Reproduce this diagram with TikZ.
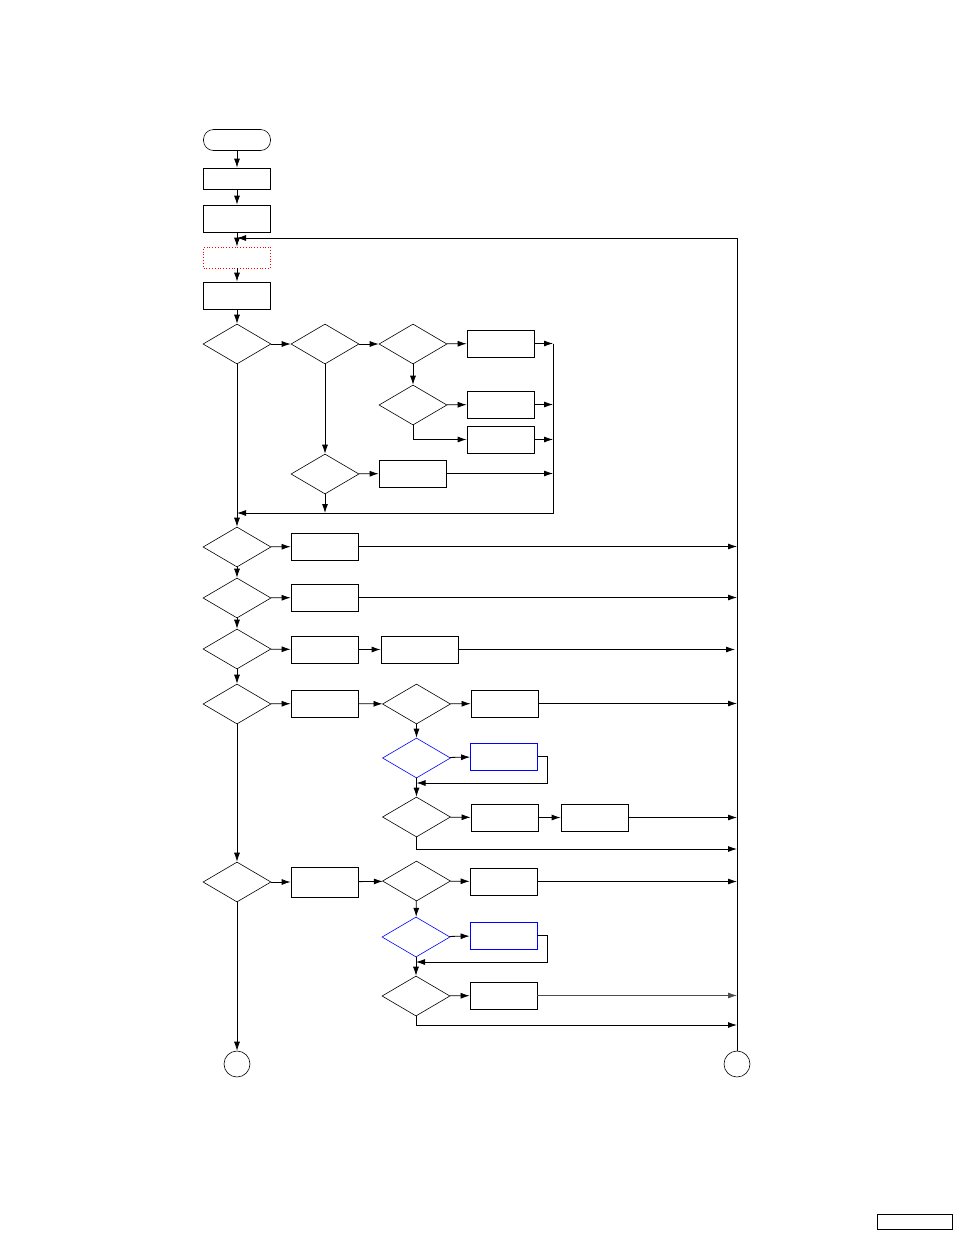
\documentclass[tikz,border=0pt]{standalone}
\usepackage{tikz}
\usetikzlibrary{shapes.geometric, arrows.meta}
\tikzset{
>={Latex[length=9pt, width=6pt]}, % filled arrow heads
box/.style={draw, line width=0.8pt, minimum width=67pt, minimum height=27pt, inner sep=0pt}, % process box
thinbox/.style={box, minimum height=21pt}, % the lower boxes at the top
decision/.style={draw, diamond, aspect=1.7, minimum width=68pt, minimum height=40pt, inner sep=0pt, line width=0.6pt}, % decision
terminal/.style={draw, rounded corners=10pt, minimum width=67pt, minimum height=21pt, inner sep=0pt, line width=0.6pt},
connector/.style={draw, circle, minimum size=26pt, inner sep=0pt, line width=0.6pt},
flow/.style={->, line width=0.8pt}, % the flow lines
}

\begin{document}
\begin{tikzpicture}[x=1pt, y=-1pt]
    \useasboundingbox (0,0) rectangle (954,1235);
    % top column
    \node[terminal] (start) at (237,140) {};
    \node[thinbox] (b1) at (237,178.5) {};
    \node[box] (b2) at (237,218.5) {};
    \node[thinbox, draw=red, dotted] (b3) at (237,257.5) {};
    \node[box] (b4) at (237,295.5) {};
    % first block
    \node[decision] (d1) at (237,344) {};
    \node[decision] (d2) at (325,344) {};
    \node[decision] (d3) at (413,344) {};
    \node[box] (r1) at (500.5,343.5) {};
    \node[decision] (d4) at (413,405) {};
    \node[box] (r2) at (500.5,404.5) {};
    \node[box] (r3) at (500.5,439.5) {};
    \node[decision] (d5) at (325,474) {};
    \node[box] (r4) at (412.5,473.5) {};
    \coordinate (cbus) at (553,513);
    % main column
    \node[decision] (d6) at (237,547) {};
    \node[box] (s1) at (324.5,546.5) {};
    \node[decision] (d7) at (237,598) {};
    \node[box] (s2) at (324.5,597.5) {};
    \node[decision] (d8) at (237,649) {};
    \node[box] (s3) at (324.5,649.5) {};
    \node[box, minimum width=77pt] (s4) at (419.5,649.5) {};
    \node[decision] (d9) at (237,704) {};
    \node[box] (s5) at (324.5,703.5) {};
    \node[decision] (d10) at (416.5,704) {};
    \node[box] (s6) at (504.5,703.5) {};
    \node[decision, draw=blue] (d11) at (416.5,758) {};
    \node[box, draw=blue] (s7) at (504,756.5) {};
    \node[decision] (d12) at (416.5,817) {};
    \node[box] (s8) at (504.5,817.5) {};
    \node[box] (s9) at (594.5,817.5) {};
    \node[decision] (d13) at (237,882) {};
    \node[box, minimum height=30pt] (s10) at (324.5,882) {};
    \node[decision] (d14) at (416.5,881) {};
    \node[box] (s11) at (503.5,881.5) {};
    \node[decision, draw=blue] (d15) at (416,937) {};
    \node[box, draw=blue] (s12) at (503.5,935.5) {};
    \node[decision] (d16) at (416,996) {};
    \node[box] (s13) at (503.5,995.5) {};
    \node[connector] (c1) at (237,1064) {};
    \node[connector] (c2) at (737,1064) {};
    \node[draw, line width=0.8pt, minimum width=75pt, minimum height=15pt, inner sep=0pt] (tag) at (914.5,1221.5) {};
    \coordinate (rtop) at (737,238);
    \coordinate (loopa) at (547,783);
    \coordinate (loopb) at (547,962);

    \draw[flow] (start) -- (b1);
    \draw[flow] (b1) -- (b2);
    \draw[flow] (b2) -- (b3);
    \draw[flow] (b3) -- (b4);
    \draw[flow] (b4) -- (d1);
    \draw[flow] (c2) -- (rtop) -- (rtop -| b2);
    \draw[flow] (d1) -- (d2);
    \draw[flow] (d2) -- (d3);
    \draw[flow] (d3) -- (r1);
    \draw[flow] (d3) -- (d4);
    \draw[flow] (d4) -- (r2);
    \draw[flow] (d4.south) |- (r3);
    \draw[flow] (d2) -- (d5);
    \draw[flow] (d5) -- (r4);
    \draw[flow] (r1) -- (r1 -| cbus);
    \draw[flow] (r2) -- (r2 -| cbus);
    \draw[flow] (r3) -- (r3 -| cbus);
    \draw[flow] (r4) -- (r4 -| cbus);
    \draw[flow] (r1 -| cbus) -- (cbus) -- (cbus -| d1);
    \draw[flow] (d5) -- (d5 |- cbus);
    \draw[flow] (d1) -- (d6);
    \draw[flow] (d6) -- (s1);
    \draw[flow] (s1) -- (s1 -| rtop);
    \draw[flow] (d6) -- (d7);
    \draw[flow] (d7) -- (s2);
    \draw[flow] (s2) -- (s2 -| rtop);
    \draw[flow] (d7) -- (d8);
    \draw[flow] (d8) -- (s3);
    \draw[flow] (s3) -- (s4);
    \draw[flow] (s4) -- ([xshift=-2pt]s4 -| rtop);
    \draw[flow] (d8) -- (d9);
    \draw[flow] (d9) -- (s5);
    \draw[flow] (s5) -- (d10);
    \draw[flow] (d10) -- (s6);
    \draw[flow] (s6) -- (s6 -| rtop);
    \draw[flow] (d10) -- (d11);
    \draw[flow] (d11) -- (s7);
    \draw[flow] (s7.east) -| (loopa) -- (loopa -| d11);
    \draw[flow] (d11) -- (d12);
    \draw[flow] (d12) -- (s8);
    \draw[flow] (s8) -- (s9);
    \draw[flow] (s9) -- (s9 -| rtop);
    \draw[flow] (d12.south) |- (rtop |- 0,849);
    \draw[flow] (d9) -- (d13);
    \draw[flow] (d13) -- (s10);
    \draw[flow] (s10) -- (d14);
    \draw[flow] (d14) -- (s11);
    \draw[flow] (s11) -- (s11 -| rtop);
    \draw[flow] (d14) -- (d15);
    \draw[flow] (d15) -- (s12);
    \draw[flow] (s12.east) -| (loopb) -- (loopb -| d15);
    \draw[flow] (d15) -- (d16);
    \draw[flow] (d16) -- (s13);
    \draw[flow, black!70] (s13) -- (s13 -| rtop);
    \draw[flow] (d16.south) |- (rtop |- 0,1025);
    \draw[flow] (d13) -- (c1);
\end{tikzpicture}
\end{document}
